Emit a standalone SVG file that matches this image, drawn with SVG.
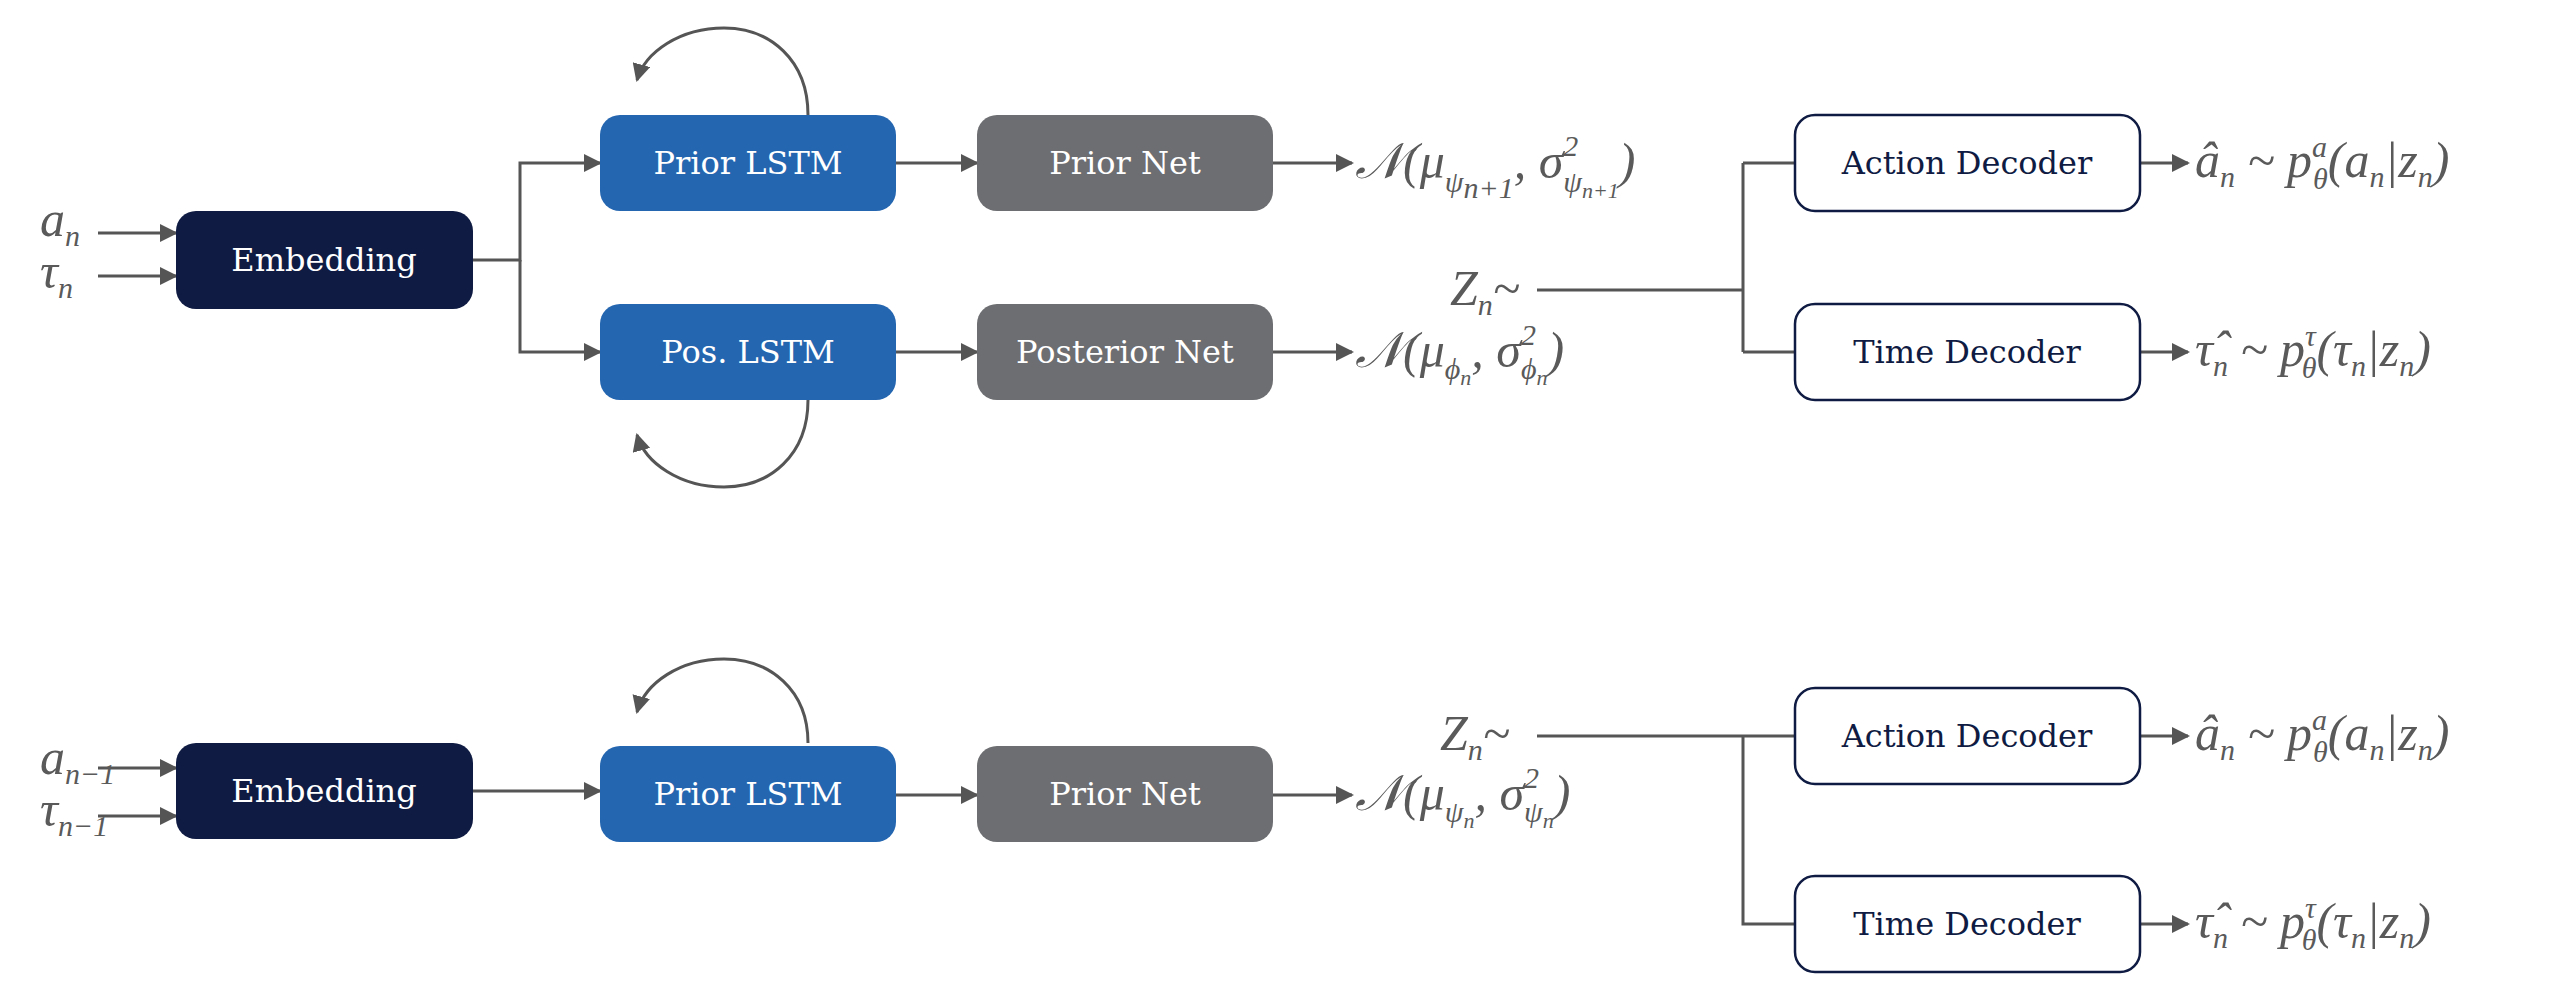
<svg xmlns="http://www.w3.org/2000/svg" width="2550" height="1000" viewBox="0 0 2550 1000">
<defs>
<marker id="ah" markerWidth="10" markerHeight="10" refX="9" refY="5" orient="auto" markerUnits="userSpaceOnUse" viewBox="0 0 10 10"><path d="M0,0 L10,5 L0,10 z" fill="#555"/></marker>
<marker id="ahb" markerWidth="18" markerHeight="18" refX="16" refY="9" orient="auto" markerUnits="userSpaceOnUse" viewBox="0 0 18 18"><path d="M0,0 L18,9 L0,18 z" fill="#555"/></marker>
</defs>
<style>
.bx{font-family:"DejaVu Serif","Liberation Serif",serif;font-size:32px;text-anchor:middle;dominant-baseline:central}
.w{fill:#fff}.d{fill:#0f1b42}
.emb{fill:#0f1b42}.lstm{fill:#2566b0}.net{fill:#6d6e71}.dec{fill:#fff;stroke:#0f1b42;stroke-width:2.5}
.ln{fill:none;stroke:#555;stroke-width:3}
.m{font-family:"Liberation Serif","DejaVu Serif",serif;font-style:italic;fill:#5a5a5a;font-size:50px}
.s{font-size:30px}
</style>
<rect width="2550" height="1000" fill="#fff"/>
<g id="connectors">
<path class="ln" d="M98,233 H176" marker-end="url(#ahb)"/>
<path class="ln" d="M98,276 H176" marker-end="url(#ahb)"/>
<path class="ln" d="M473,260 H520 V163 H600" marker-end="url(#ahb)"/>
<path class="ln" d="M520,260 V352 H600" marker-end="url(#ahb)"/>
<path class="ln" d="M896,163 H977" marker-end="url(#ahb)"/>
<path class="ln" d="M896,352 H977" marker-end="url(#ahb)"/>
<path class="ln" d="M1273,163 H1352" marker-end="url(#ahb)"/>
<path class="ln" d="M1273,352 H1352" marker-end="url(#ahb)"/>
<path class="ln" d="M808,115 C808,60 770,28 724,28 C680,28 645,52 637,80" marker-end="url(#ahb)"/>
<path class="ln" d="M808,400 C808,455 770,487 724,487 C680,487 645,463 637,435" marker-end="url(#ahb)"/>
<path class="ln" d="M1537,290 H1743 M1743,163 V352 M1743,163 H1795 M1743,352 H1795"/>
<path class="ln" d="M2140,163 H2188" marker-end="url(#ahb)"/>
<path class="ln" d="M2140,352 H2188" marker-end="url(#ahb)"/>
<path class="ln" d="M98,768 H176" marker-end="url(#ahb)"/>
<path class="ln" d="M98,816 H176" marker-end="url(#ahb)"/>
<path class="ln" d="M473,791 H600" marker-end="url(#ahb)"/>
<path class="ln" d="M896,795 H977" marker-end="url(#ahb)"/>
<path class="ln" d="M1273,795 H1352" marker-end="url(#ahb)"/>
<path class="ln" d="M808,743 C808,690 770,659 724,659 C680,659 645,683 637,712" marker-end="url(#ahb)"/>
<path class="ln" d="M1537,736 H1795 M1743,736 V924 H1795"/>
<path class="ln" d="M2140,736 H2188" marker-end="url(#ahb)"/>
<path class="ln" d="M2140,924 H2188" marker-end="url(#ahb)"/>
</g>
<g id="emb1"><rect class="emb" x="176" y="211" width="297" height="98" rx="20"/><text class="bx w" x="324" y="260">Embedding</text></g>
<g id="plstm1"><rect class="lstm" x="600" y="115" width="296" height="96" rx="20"/><text class="bx w" x="748" y="163">Prior LSTM</text></g>
<g id="pnet1"><rect class="net" x="977" y="115" width="296" height="96" rx="20"/><text class="bx w" x="1125" y="163">Prior Net</text></g>
<g id="poslstm"><rect class="lstm" x="600" y="304" width="296" height="96" rx="20"/><text class="bx w" x="748" y="352">Pos. LSTM</text></g>
<g id="postnet"><rect class="net" x="977" y="304" width="296" height="96" rx="20"/><text class="bx w" x="1125" y="352">Posterior Net</text></g>
<g id="adec1"><rect class="dec" x="1795" y="115" width="345" height="96" rx="20"/><text class="bx d" x="1967" y="163">Action Decoder</text></g>
<g id="tdec1"><rect class="dec" x="1795" y="304" width="345" height="96" rx="20"/><text class="bx d" x="1967" y="352">Time Decoder</text></g>
<g id="emb2"><rect class="emb" x="176" y="743" width="297" height="96" rx="20"/><text class="bx w" x="324" y="791">Embedding</text></g>
<g id="plstm2"><rect class="lstm" x="600" y="746" width="296" height="96" rx="20"/><text class="bx w" x="748" y="794">Prior LSTM</text></g>
<g id="pnet2"><rect class="net" x="977" y="746" width="296" height="96" rx="20"/><text class="bx w" x="1125" y="794">Prior Net</text></g>
<g id="adec2"><rect class="dec" x="1795" y="688" width="345" height="96" rx="20"/><text class="bx d" x="1967" y="736">Action Decoder</text></g>
<g id="tdec2"><rect class="dec" x="1795" y="876" width="345" height="96" rx="20"/><text class="bx d" x="1967" y="924">Time Decoder</text></g>
<g id="labels">
<text class="m" x="40" y="236">a<tspan class="s" dy="10">n</tspan></text>
<text class="m" x="40" y="288">τ<tspan class="s" dy="10">n</tspan></text>
<text class="m" x="40" y="774">a<tspan class="s" dy="10">n−1</tspan></text>
<text class="m" x="40" y="826">τ<tspan class="s" dy="10">n−1</tspan></text>
<text class="m" x="1355" y="178">𝒩(μ<tspan class="s" dy="14">ψ</tspan><tspan class="s" font-size="22" dy="6">n+1</tspan><tspan dy="-20">, σ</tspan><tspan class="s" dy="-22">2</tspan><tspan class="s" dx="-15" dy="36">ψ</tspan><tspan font-size="22" dy="6">n+1</tspan><tspan dy="-20">)</tspan></text>
<text class="m" x="1355" y="367">𝒩(μ<tspan class="s" dy="12">ϕ</tspan><tspan font-size="22" dy="6">n</tspan><tspan dy="-18">, σ</tspan><tspan class="s" dy="-22">2</tspan><tspan class="s" dx="-15" dy="34">ϕ</tspan><tspan font-size="22" dy="6">n</tspan><tspan dy="-18">)</tspan></text>
<text class="m" x="1355" y="810">𝒩(μ<tspan class="s" dy="12">ψ</tspan><tspan font-size="22" dy="6">n</tspan><tspan dy="-18">, σ</tspan><tspan class="s" dy="-22">2</tspan><tspan class="s" dx="-15" dy="34">ψ</tspan><tspan font-size="22" dy="6">n</tspan><tspan dy="-18">)</tspan></text>
<text class="m" x="1450" y="305">Z<tspan class="s" dy="10">n</tspan><tspan dy="-10">~</tspan></text>
<text class="m" x="1440" y="750">Z<tspan class="s" dy="10">n</tspan><tspan dy="-10">~</tspan></text>
<text class="m" x="2195" y="177">â<tspan class="s" dy="10">n</tspan><tspan dy="-10"> ~ p</tspan><tspan class="s" dy="-20">a</tspan><tspan class="s" dx="-14" dy="32">θ</tspan><tspan dy="-12">(a</tspan><tspan class="s" dy="10">n</tspan><tspan dy="-10">|z</tspan><tspan class="s" dy="10">n</tspan><tspan dy="-10">)</tspan></text>
<text class="m" x="2195" y="366">τ̂<tspan class="s" dy="10">n</tspan><tspan dy="-10"> ~ p</tspan><tspan class="s" dy="-20">τ</tspan><tspan class="s" dx="-14" dy="32">θ</tspan><tspan dy="-12">(τ</tspan><tspan class="s" dy="10">n</tspan><tspan dy="-10">|z</tspan><tspan class="s" dy="10">n</tspan><tspan dy="-10">)</tspan></text>
<text class="m" x="2195" y="750">â<tspan class="s" dy="10">n</tspan><tspan dy="-10"> ~ p</tspan><tspan class="s" dy="-20">a</tspan><tspan class="s" dx="-14" dy="32">θ</tspan><tspan dy="-12">(a</tspan><tspan class="s" dy="10">n</tspan><tspan dy="-10">|z</tspan><tspan class="s" dy="10">n</tspan><tspan dy="-10">)</tspan></text>
<text class="m" x="2195" y="938">τ̂<tspan class="s" dy="10">n</tspan><tspan dy="-10"> ~ p</tspan><tspan class="s" dy="-20">τ</tspan><tspan class="s" dx="-14" dy="32">θ</tspan><tspan dy="-12">(τ</tspan><tspan class="s" dy="10">n</tspan><tspan dy="-10">|z</tspan><tspan class="s" dy="10">n</tspan><tspan dy="-10">)</tspan></text>
</g>
</svg>
